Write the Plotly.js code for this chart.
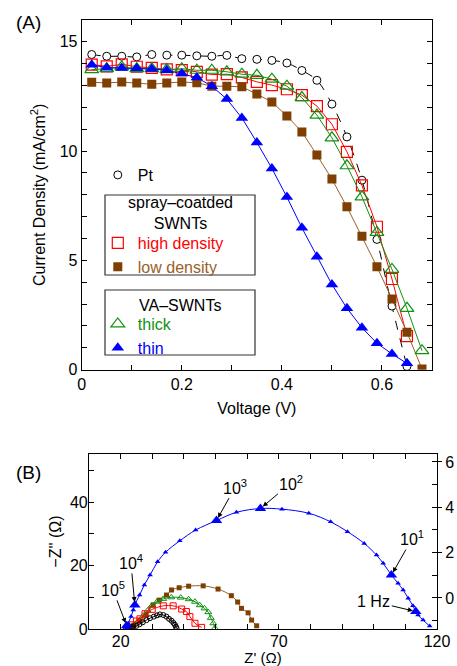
<!DOCTYPE html>
<html><head><meta charset="utf-8">
<script src="https://cdn.plot.ly/plotly-3.0.1.min.js"></script>
<style>html,body{margin:0;padding:0;background:#fff}</style>
</head><body><div id="chart" style="width:457px;height:666px"></div>
<script>
// ---------- (A) J-V curves ----------
const voltsPt    = [0.02,0.05,0.08,0.11,0.14,0.17,0.20,0.23,0.26,0.29,0.32,0.35,0.38,0.41,0.44,0.47,0.50,0.53,0.56,0.59,0.62,0.65];
const jPt        = [14.42,14.34,14.34,14.31,14.42,14.39,14.39,14.36,14.34,14.38,14.23,14.20,14.15,14.03,13.69,13.24,12.15,10.65,8.67,5.96,2.91,0.15];
const voltsHigh  = [0.02,0.05,0.08,0.11,0.14,0.17,0.20,0.23,0.26,0.29,0.32,0.35,0.38,0.41,0.44,0.47,0.50,0.53,0.56,0.59,0.62,0.65];
const jHigh      = [13.96,13.88,13.97,13.86,13.81,13.74,13.71,13.63,13.50,13.52,13.37,13.17,13.02,12.83,12.56,12.06,11.23,9.97,8.43,6.54,4.15,1.54];
const voltsLow   = [0.02,0.05,0.08,0.11,0.14,0.17,0.20,0.23,0.26,0.29,0.32,0.35,0.38,0.41,0.44,0.47,0.50,0.53,0.56,0.59,0.62,0.65,0.68];
const jLow       = [13.15,13.12,13.16,13.12,13.06,13.12,13.16,13.13,12.97,12.97,12.94,12.61,12.25,11.61,10.88,9.82,8.72,7.45,6.11,4.71,3.23,1.71,0.03];
const voltsThick = [0.02,0.05,0.08,0.11,0.14,0.17,0.20,0.23,0.26,0.29,0.32,0.35,0.38,0.41,0.44,0.47,0.50,0.53,0.56,0.59,0.62,0.65,0.68];
const jThick     = [13.73,13.77,13.85,13.77,13.77,13.73,13.77,13.70,13.70,13.63,13.52,13.47,13.29,12.97,12.45,11.65,10.61,9.33,7.91,6.28,4.59,2.81,0.87];
const voltsThin  = [0.02,0.05,0.08,0.11,0.14,0.17,0.20,0.23,0.26,0.29,0.32,0.35,0.38,0.41,0.44,0.47,0.50,0.53,0.56,0.59,0.62,0.65];
const jThin      = [13.95,13.82,13.80,13.79,13.76,13.70,13.55,13.37,12.97,12.38,11.52,10.40,9.21,7.90,6.49,5.17,3.90,2.81,1.92,1.21,0.72,0.29];

const xTicksA = [0,0.2,0.4,0.6];
const xTextA  = ['0','0.2','0.4','0.6'];
const yTicksA = [0,5,10,15];
const yTextA  = ['0','5','10','15'];

// ---------- (B) Nyquist ----------
const zPtRe    = [21.8,22.5,23.2,24.0,25.0,26.0,27.0,28.2,29.3,30.5,31.5,32.4,33.5,34.5,35.3,36.1,36.7,37.2,37.5,37.7];
const zPtIm    = [0.2,0.4,0.6,0.8,1.0,1.5,2.1,2.8,3.4,3.9,4.3,4.6,4.4,3.9,3.2,2.6,1.9,1.3,0.7,0.2];
const zHighRe  = [21.9,23.5,25.0,26.1,27.7,30.0,33.5,36.6,39.3,40.8,41.9,43.5,45.6];
const zHighIm  = [0.2,1.3,2.5,3.2,4.8,6.2,7.3,7.3,6.3,5.5,3.9,1.8,0.5];
const zLowRe   = [22.5,24.0,26.0,28.0,30.3,32.2,34.5,36.1,38.5,41.5,46.1,50.8,55.0,57.0,58.2,60.3,61.4,63.0];
const zLowIm   = [0.3,1.0,2.5,4.5,7.6,9.1,10.7,12.3,13.0,13.5,13.6,12.6,10.5,8.5,6.5,5.1,2.8,1.0];
const zThickRe = [22.5,24.0,25.5,27.0,28.5,29.8,31.5,33.5,36.0,39.0,41.5,43.5,45.0,46.5,47.7,48.5,49.3,49.8];
const zThickIm = [0.3,1.2,2.5,4.0,5.8,7.3,8.6,9.5,10.0,9.9,9.4,8.6,7.5,6.5,5.3,3.5,1.8,0.3];
const zThinRe  = [21.9,22.4,23.3,24.0,24.5,26.0,27.5,29.3,31.7,34.2,38.7,43.7,50.3,56.6,64.2,71.0,79.5,86.4,91.7,97.0,100.9,103.0,105.6,107.7,109.3,110.9,112.4,113.3,114.0,115.6,117.7];
const zThinIm  = [0.2,1.8,3.9,6.0,7.6,10.7,13.9,17.0,21.2,24.2,27.8,31.2,34.2,36.8,38.0,37.8,36.5,33.8,30.7,27.0,23.3,20.7,17.0,14.4,12.3,9.7,7.3,5.5,4.4,2.8,0.9];
const freqLabels = ['10<sup>5</sup>','10<sup>4</sup>','10<sup>3</sup>','10<sup>2</sup>','10<sup>1</sup>','1 Hz'];
const freqRe     = [21.9,24.5,50.3,64.2,105.6,113.3];
const freqIm     = [1.0,7.6,34.2,38.0,17.0,5.5];

const xTicksB = [20,70,120];
const xTextB  = ['20','70','120'];
const yTicksB = [0,20,40];
const yTextB  = ['0','20','40'];
const yTicksR = [0,2,4,6];
const yTextR  = ['0','2','4','6'];

// ---------- styles ----------
const FONT = 'Liberation Sans, Arial, sans-serif';
const cRed = '#ff0000', cBrown = '#7f3f00', cBrownL = '#99602a', cGreen = '#119111', cBlue = '#0000ff';
const span = (c, t) => `<span style="color:${c}">${t}</span>`;

const traces = [];
function addSeries(x, y, lineColor, dash, shape, marker, name, legend, xa, ya) {
  traces.push({x, y, xaxis: xa, yaxis: ya, mode: 'lines', showlegend: false, hoverinfo: 'skip',
    line: {color: lineColor, width: 1, dash: dash, shape: shape}});
  traces.push({x, y, xaxis: xa, yaxis: ya, mode: 'markers', name: name, legend: legend,
    showlegend: !!name, marker: marker});
}
// (A)
addSeries(voltsPt, jPt, '#000', 'dash', 'spline', {symbol:'circle', size:8, color:'#fff', line:{color:'#000', width:1}}, 'Pt', 'legend', 'x', 'y');
addSeries(voltsHigh, jHigh, cRed, 'solid', 'linear', {symbol:'square', size:11, color:'rgba(255,255,255,0)', line:{color:cRed, width:1.2}}, span(cRed,'high density'), 'legend2', 'x', 'y');
addSeries(voltsLow, jLow, cBrownL, 'solid', 'linear', {symbol:'square', size:9, color:cBrown, line:{width:0}}, span(cBrownL,'low density'), 'legend2', 'x', 'y');
addSeries(voltsThick, jThick, cGreen, 'solid', 'linear', {symbol:'triangle-up', size:12, color:'rgba(255,255,255,0)', line:{color:cGreen, width:1.2}}, span(cGreen,'thick'), 'legend3', 'x', 'y');
addSeries(voltsThin, jThin, cBlue, 'solid', 'linear', {symbol:'triangle-up', size:11, color:cBlue, line:{width:0}}, span(cBlue,'thin'), 'legend3', 'x', 'y');
// (B)
addSeries(zLowRe, zLowIm, cBrownL, 'solid', 'spline', {symbol:'square', size:5, color:cBrown, line:{width:0}}, null, null, 'x2', 'y2');
addSeries(zThickRe, zThickIm, cGreen, 'solid', 'spline', {symbol:'triangle-up', size:6, color:'rgba(255,255,255,0)', line:{color:cGreen, width:1}}, null, null, 'x2', 'y2');
addSeries(zHighRe, zHighIm, cRed, 'solid', 'spline', {symbol:'square', size:6, color:'rgba(255,255,255,0)', line:{color:cRed, width:1}}, null, null, 'x2', 'y2');
addSeries(zPtRe, zPtIm, '#000', 'solid', 'spline', {symbol:'circle', size:5, color:'rgba(255,255,255,0)', line:{color:'#000', width:1}}, null, null, 'x2', 'y2');
addSeries(zThinRe, zThinIm, cBlue, 'solid', 'spline', {symbol:'triangle-up', size:5, color:cBlue, line:{width:0}}, null, null, 'x2', 'y2');
traces.push({x: freqRe, y: freqIm, xaxis:'x2', yaxis:'y2', mode:'markers', showlegend:false,
  marker:{symbol:'triangle-up', size:10, color:cBlue, line:{width:0}}});
// invisible trace to anchor the right-hand axis
traces.push({x:[10], y:[0], xaxis:'x2', yaxis:'y3', mode:'markers', showlegend:false, hoverinfo:'skip',
  marker:{size:1, color:'rgba(0,0,0,0)'}});

const axCommon = {showline:true, linecolor:'#000', linewidth:1, ticks:'inside', ticklen:5, tickwidth:1,
  tickcolor:'#000', showgrid:false, zeroline:false, tickmode:'array', tickfont:{family:FONT, size:16, color:'#000'}};
const minorTicks = (d, t0) => ({dtick:d, tick0:t0, ticks:'inside', ticklen:5, tickwidth:1, tickcolor:'#000', showgrid:false});

// arrow offsets for frequency labels (pixels)
const annAx = [-14,-4,19,31,21,-42];
const annAy = [-37,-43,-34,-26,-37,-10];
const annotations = freqLabels.map((t,i)=>({x:freqRe[i], y:freqIm[i], xref:'x2', yref:'y2', text:t,
  showarrow:true, ax:annAx[i], ay:annAy[i], arrowhead:2, arrowsize:1, arrowwidth:1, arrowcolor:'#000', standoff:3,
  font:{family:FONT, size:16, color:'#000'}}));
annotations.push({text:'(A)', xref:'paper', yref:'paper', x:0.03, y:1-22/666, xanchor:'left', yanchor:'middle', showarrow:false, font:{family:FONT, size:19, color:'#000'}});
annotations.push({text:'(B)', xref:'paper', yref:'paper', x:0.03, y:1-472/666, xanchor:'left', yanchor:'middle', showarrow:false, font:{family:FONT, size:19, color:'#000'}});
// legend box headings
annotations.push({text:'spray–coatded<br>SWNTs', xref:'paper', yref:'paper', x:180/457, y:1-213/666, xanchor:'center', yanchor:'middle', showarrow:false, font:{family:FONT, size:16, color:'#000'}});
annotations.push({text:'VA–SWNTs', xref:'paper', yref:'paper', x:180/457, y:1-305/666, xanchor:'center', yanchor:'middle', showarrow:false, font:{family:FONT, size:16, color:'#000'}});

const legCommon = {bgcolor:'rgba(0,0,0,0)', borderwidth:0, font:{family:FONT, size:16, color:'#000'},
  itemwidth:30, tracegroupgap:0, xanchor:'left', yanchor:'top'};

const layout = {
  width:457, height:666, autosize:false, margin:{l:0,r:0,t:0,b:0},
  paper_bgcolor:'#fff', plot_bgcolor:'#fff', font:{family:FONT, size:16, color:'#000'},
  xaxis: Object.assign({}, axCommon, {domain:[0.1788,0.9453], range:[0,0.7], tickvals:xTicksA, ticktext:xTextA,
    minor:minorTicks(0.1,0), mirror:'allticks', anchor:'y', title:{text:'Voltage (V)', font:{family:FONT, size:16}, standoff:10}}),
  yaxis: Object.assign({}, axCommon, {domain:[0.4449,0.9700], range:[0,16], tickvals:yTicksA, ticktext:yTextA,
    minor:minorTicks(1,0), mirror:'allticks', anchor:'x', title:{text:'Current Density (mA/cm<sup>2</sup>)', font:{family:FONT, size:16}, standoff:10}}),
  xaxis2: Object.assign({}, axCommon, {domain:[0.1947,0.9562], range:[10,120], tickvals:xTicksB, ticktext:xTextB,
    ticklabelstandoff:-2, minor:minorTicks(10,10), mirror:'allticks', anchor:'y2', title:{text:"Z' (Ω)", font:{family:FONT, size:15}, standoff:6}}),
  yaxis2: Object.assign({}, axCommon, {domain:[0.0556,0.3183], range:[0,55.2], tickvals:yTicksB, ticktext:yTextB,
    ticklabelstandoff:-3, minor:minorTicks(10,0), anchor:'x2', title:{text:"−Z'' (Ω)", font:{family:FONT, size:16}, standoff:4}}),
  yaxis3: Object.assign({}, axCommon, {overlaying:'y2', side:'right', anchor:'x2', range:[-1.37,6.35],
    tickvals:yTicksR, ticktext:yTextR, ticks:'outside', ticklen:4,
    minor:{dtick:1, tick0:1, ticks:'inside', ticklen:5, tickwidth:1, tickcolor:'#000', showgrid:false}}),
  legend: Object.assign({}, legCommon, {x:0.214, y:1-158/666}),
  legend2: Object.assign({}, legCommon, {x:0.214, y:1-226/666}),
  legend3: Object.assign({}, legCommon, {x:0.214, y:1-307/666}),
  shapes: [
    {type:'rect', xref:'paper', yref:'paper', x0:105/457, x1:255/457, y0:1-275/666, y1:1-195/666, line:{color:'#333', width:1.2}},
    {type:'rect', xref:'paper', yref:'paper', x0:105/457, x1:255/457, y0:1-355/666, y1:1-290/666, line:{color:'#333', width:1.2}}
  ],
  annotations: annotations,
  showlegend:true
};
Plotly.newPlot('chart', traces, layout, {staticPlot:true, displayModeBar:false});
</script></body></html>
